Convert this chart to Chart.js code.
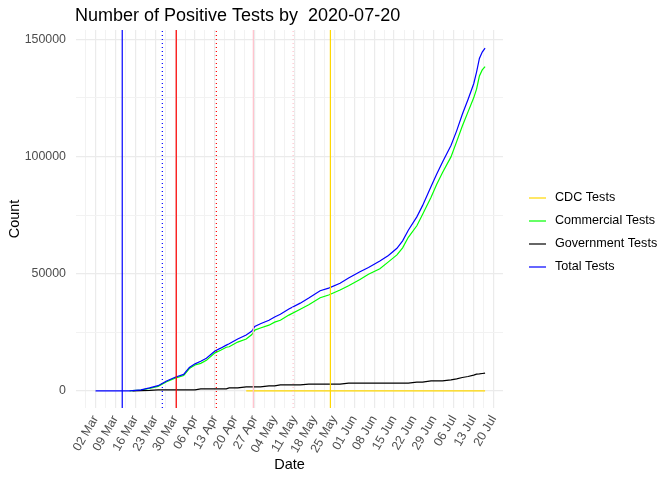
<!DOCTYPE html>
<html>
<head>
<meta charset="utf-8">
<script src="https://cdn.jsdelivr.net/npm/chart.js@4.4.1/dist/chart.umd.min.js"></script>
<style>
  html, body { margin: 0; padding: 0; background: #fff; }
  canvas { display: block; }
</style>
</head>
<body>
<canvas id="chart" width="672" height="480"></canvas>
<script>
/* data: x = days since 02 Mar 2020 */
const days = [0, 12, 13, 16, 19, 22, 25, 28, 31, 33, 35, 37, 39, 42, 44, 46, 47, 50, 53, 55, 56, 58, 61, 63, 65, 68, 72, 75, 79, 82, 86, 89, 93, 96, 100, 103, 106, 108, 110, 113, 115, 118, 120, 122, 125, 127, 129, 131, 133, 134, 135, 136, 137];
const totalTests = [0, 0, 100, 400, 1250, 2200, 4200, 5800, 7000, 10000, 11500, 12600, 13900, 17000, 18200, 19500, 20100, 22100, 23800, 25500, 27500, 28600, 30100, 31500, 32700, 34900, 37400, 39600, 42700, 43800, 45900, 48100, 50800, 52600, 55400, 57700, 60800, 64000, 68500, 74200, 79000, 87200, 92500, 97500, 104700, 110900, 118000, 124300, 131000, 136000, 141800, 144500, 146200];
const commercialTests = [null, 0, 100, 300, 1050, 1900, 3900, 5400, 6500, 9500, 11000, 11700, 13000, 16200, 17300, 18600, 18800, 20800, 22100, 24000, 25900, 26800, 28000, 29300, 30100, 32300, 34800, 36700, 39700, 40900, 43000, 44800, 47500, 49700, 52100, 55000, 58000, 61000, 65500, 70400, 75200, 82600, 88100, 93000, 99800, 106300, 113000, 119000, 125000, 128700, 134300, 136900, 138300];
const governmentTests = [null, null, 0, 100, 200, 400, 400, 400, 400, 400, 400, 850, 850, 850, 850, 850, 1280, 1280, 1700, 1700, 1700, 1700, 2130, 2130, 2560, 2560, 2560, 2840, 2840, 2840, 2840, 3270, 3270, 3270, 3270, 3270, 3270, 3270, 3270, 3700, 3700, 4260, 4260, 4260, 4690, 5110, 5680, 6100, 6700, 7100, 7200, 7400, 7530];
const cdcTests = [null, null, null, null, null, null, null, null, null, null, null, null, null, null, null, null, null, null, 0, 0, 0, 0, 0, 0, 0, 0, 0, 0, 0, 0, 0, 0, 0, 0, 0, 0, 0, 0, 0, 0, 0, 0, 0, 0, 0, 0, 0, 0, 0, 0, 0, 0, 0];

/* event markers (days since 02 Mar) */
const markerDays = [9.4, 23.5, 28.4, 42.5, 55.5, 69.5, 82.6];
const markerColors = ['#0000ff', '#0000ff', '#ff0000', '#ff0000', '#ffc0cb', '#ffc0cb', '#ffd700'];
const markerDotted = [false, true, false, true, false, true, false];

/* axes */
const xTickLabels = ['02 Mar', '09 Mar', '16 Mar', '23 Mar', '30 Mar', '06 Apr', '13 Apr', '20 Apr', '27 Apr', '04 May', '11 May', '18 May', '25 May', '01 Jun', '08 Jun', '15 Jun', '22 Jun', '29 Jun', '06 Jul', '13 Jul', '20 Jul'];
const yTickValues = [0, 25000, 50000, 75000, 100000, 125000, 150000];
const xMin = -6.86, xMax = 143.3;
const yMin = -7330, yMax = 153930;

const series = [
  { label: 'CDC Tests', color: '#ffd700', values: cdcTests },
  { label: 'Commercial Tests', color: '#00ff00', values: commercialTests },
  { label: 'Government Tests', color: '#000000', values: governmentTests },
  { label: 'Total Tests', color: '#0000ff', values: totalTests }
];

const FONT = "'Liberation Sans', Arial, sans-serif";
Chart.defaults.font.family = FONT;

const pts = vals => days.map((d, i) => ({ x: d, y: vals[i] }));

const markerSets = markerDays.map((d, i) => ({
  label: 'marker' + i,
  data: [{ x: d, y: yMin }, { x: d, y: yMax }],
  borderColor: markerColors[i],
  borderWidth: 1.2,
  borderDash: markerDotted[i] ? [1, 3] : [],
  pointRadius: 0,
  order: 0
}));

const seriesSets = series.map((s, i) => ({
  label: s.label,
  data: pts(s.values),
  borderColor: s.color,
  borderWidth: 1.2,
  pointRadius: 0,
  tension: 0,
  spanGaps: false,
  order: series.length - i
}));

/* title + legend, ggplot style */
const decor = {
  id: 'decor',
  afterDraw(chart) {
    const { ctx, chartArea } = chart;
    ctx.save();
    ctx.fillStyle = '#000';
    ctx.font = '18px ' + FONT;
    ctx.textBaseline = 'middle';
    ctx.textAlign = 'left';
    ctx.fillText('Number of Positive Tests by  2020-07-20', chartArea.left - 1, 16);

    ctx.font = '12.6px ' + FONT;
    const keyX = chartArea.right + 26;
    const y0 = chartArea.top + 168;
    series.forEach((s, i) => {
      const y = y0 + i * 23;
      ctx.strokeStyle = s.color;
      ctx.lineWidth = 1.2;
      ctx.beginPath();
      ctx.moveTo(keyX, y);
      ctx.lineTo(keyX + 17, y);
      ctx.stroke();
      ctx.fillStyle = '#000';
      ctx.fillText(s.label, keyX + 26, y);
    });
    ctx.restore();
  }
};

const gridColor = major => major ? '#ebebeb' : '#f2f2f2';

new Chart(document.getElementById('chart'), {
  type: 'line',
  data: { datasets: [...markerSets, ...seriesSets] },
  options: {
    responsive: false,
    animation: false,
    layout: { padding: { top: 30, right: 169, left: 0, bottom: 0 } },
    plugins: { legend: { display: false }, tooltip: { enabled: false }, title: { display: false } },
    scales: {
      x: {
        type: 'linear',
        min: xMin,
        max: xMax,
        afterFit: s => { s.height = 72; },
        afterBuildTicks: s => {
          const t = [];
          for (let v = -3.5; v <= 140; v += 3.5) t.push({ value: v });
          s.ticks = t;
        },
        ticks: {
          autoSkip: false,
          minRotation: 60,
          maxRotation: 60,
          padding: 5,
          color: '#4d4d4d',
          font: { size: 12.4 },
          callback: v => (v >= 0 && v % 7 === 0) ? xTickLabels[v / 7] : ''
        },
        grid: {
          drawTicks: false,
          color: c => gridColor(c.tick && c.tick.value % 7 === 0),
          lineWidth: c => (c.tick && c.tick.value % 7 === 0) ? 1.2 : 1
        },
        border: { display: false },
        title: { display: true, text: 'Date', color: '#000', font: { size: 14.5 }, padding: { top: 0, bottom: 6 } }
      },
      y: {
        min: yMin,
        max: yMax,
        afterFit: s => { s.width = 76; },
        afterBuildTicks: s => { s.ticks = yTickValues.map(v => ({ value: v })); },
        ticks: {
          padding: 10,
          color: '#4d4d4d',
          font: { size: 12.4 },
          callback: v => v % 50000 === 0 ? String(v) : ''
        },
        grid: {
          drawTicks: false,
          color: c => gridColor(c.tick && c.tick.value % 50000 === 0),
          lineWidth: c => (c.tick && c.tick.value % 50000 === 0) ? 1.2 : 1
        },
        border: { display: false },
        title: { display: true, text: 'Count', color: '#000', font: { size: 14.5 }, padding: { top: 6, bottom: 0 } }
      }
    }
  },
  plugins: [decor]
});
</script>
</body>
</html>
